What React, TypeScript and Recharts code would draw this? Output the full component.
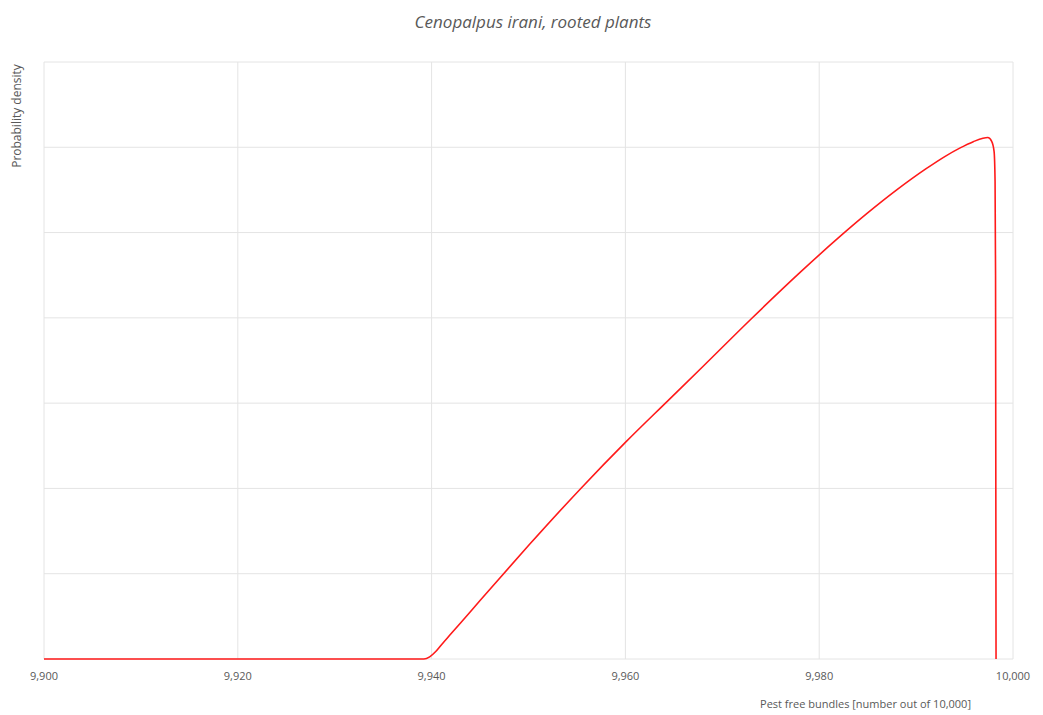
import React from "react";
import {
  LineChart,
  Line,
  XAxis,
  YAxis,
  CartesianGrid,
} from "recharts";

// pest free bundles (out of 10,000) and the density
const bundles = [
  9900, 9920, 9939.2, 9939.8, 9940.4, 9941, 9942, 9944, 9947, 9950,
  9955.4, 9960, 9964.4, 9968, 9973, 9978, 9982, 9985, 9988, 9991,
  9993, 9994.5, 9995.9, 9996.9, 9997.4, 9997.8, 9998.05, 9998.15, 9998.2,
  9998.25,
];
const density = [
  0, 0, 0, 0.025, 0.085, 0.165, 0.295, 0.555, 0.945, 1.33,
  2.0, 2.54, 3.03, 3.43, 3.99, 4.53, 4.94, 5.23, 5.5, 5.746,
  5.894, 5.99, 6.066, 6.106, 6.114, 6.07, 5.95, 5.6, 4.5,
  0,
];

const xTicks = [9900, 9920, 9940, 9960, 9980, 10000];
const yTicks = [0, 1, 2, 3, 4, 5, 6, 7];

const data = bundles.map((b, i) => ({ x: b, y: density[i] }));

const fmt = (v: number) => v.toLocaleString("en-US");

const textColor = "#595959";
const font = "'Open Sans', 'Liberation Sans', sans-serif";

export default function App() {
  return (
    <div
      style={{
        position: "absolute",
        left: 0,
        top: 0,
        width: 1043,
        height: 715,
        background: "#fff",
        fontFamily: font,
      }}
    >
      <div
        style={{
          position: "absolute",
          top: 10,
          left: 0,
          width: 1066,
          textAlign: "center",
          fontSize: 17,
          fontStyle: "italic",
          color: textColor,
        }}
      >
        Cenopalpus irani, rooted plants
      </div>
      <div
        style={{
          position: "absolute",
          left: 16,
          top: 116,
          transform: "translate(-50%, -50%) rotate(-90deg)",
          fontSize: 12,
          color: textColor,
          whiteSpace: "nowrap",
        }}
      >
        Probability density
      </div>
      <div
        style={{
          position: "absolute",
          right: 72,
          top: 696,
          fontSize: 11,
          color: textColor,
          whiteSpace: "nowrap",
        }}
      >
        Pest free bundles [number out of 10,000]
      </div>
      <LineChart
        width={1043}
        height={715}
        data={data}
        margin={{ top: 62, right: 30, left: 44, bottom: 0 }}
      >
        <CartesianGrid
          stroke="#e4e4e4"
          horizontalValues={yTicks}
          verticalValues={xTicks}
        />
        <XAxis
          dataKey="x"
          type="number"
          domain={[9900, 10000]}
          ticks={xTicks}
          tickFormatter={fmt}
          height={56}
          axisLine={false}
          tickLine={false}
          tickSize={0}
          tickMargin={13}
          tick={{ fill: textColor, fontSize: 11, fontFamily: font }}
        />
        <YAxis hide domain={[0, 7]} ticks={yTicks} width={0} />
        <Line
          type="monotone"
          dataKey="y"
          stroke="#ff1a1a"
          strokeWidth={1.6}
          dot={false}
          isAnimationActive={false}
        />
      </LineChart>
    </div>
  );
}
